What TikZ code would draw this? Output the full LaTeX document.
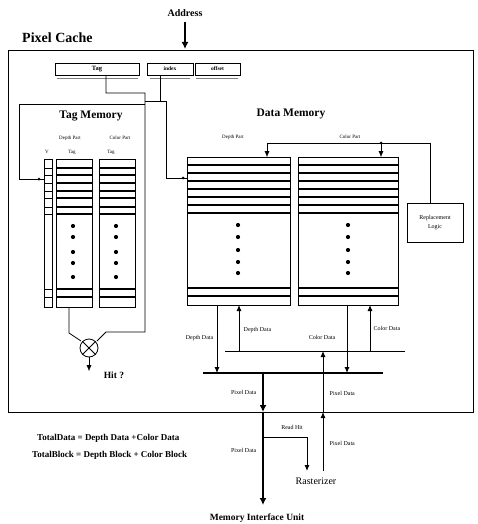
\documentclass[tikz,border=0pt]{standalone}
\usepackage{fontspec}
\setmainfont{Liberation Serif}
\usetikzlibrary{arrows.meta}
\begin{document}
\begin{tikzpicture}[x=1pt,y=-1pt,
  arr/.style={-{Latex[length=6pt,width=5pt]}},
  thickarr/.style={line width=1.6pt,-{Latex[length=7pt,width=7pt]}},
  ln/.style={line width=0.8pt},
  box/.style={draw,line width=0.8pt,inner sep=0pt,anchor=north west},
  fld/.style={draw,line width=0.8pt,inner sep=0pt,minimum height=12pt,font=\fontsize{5.5}{6}\selectfont\bfseries},
  lbl/.style={font=\fontsize{6}{7}\selectfont,inner sep=0.5pt},
  dotm/.style={circle,fill,inner sep=0pt,minimum size=4.2pt},
  jn/.style={circle,fill,inner sep=0pt,minimum size=3pt}]
\useasboundingbox (0,0) rectangle (478,524);

% titles
\node[font=\fontsize{10}{11}\selectfont\bfseries] (addr) at (185,13) {Address};
\node[anchor=west,font=\fontsize{14}{15}\selectfont\bfseries,inner sep=0pt] (pc) at (22,38) {Pixel Cache};

% outer box
\node[box,line width=1pt,minimum width=465pt,minimum height=362pt] (cache) at (8,50) {};
\coordinate (addrin) at (185,22);
\draw[thickarr] (addrin) -- (185,49);

% address fields
\node[fld,minimum width=84pt,font=\fontsize{6.5}{7}\selectfont\bfseries] (tagf) at (97,69) {Tag};
\node[fld,minimum width=46pt] (idxf) at (170,69) {index};
\node[fld,minimum width=45pt] (offf) at (217.5,69) {offset};
\draw[gray,line width=1pt] (57,79) -- (138,79) (150,79) -- (190,79) (196,79) -- (238,79);

% tag line and index line
\draw[ln] (106,75) -- (106,93) -- (145,93) -- (145,332) -- (106,332) -- (97,341);
\draw[ln] (160,75) -- (160,101) -- (166,101) -- (166,178) -- (187,178);
\draw[ln] (145,101) -- (160,101);
\draw[ln] (145,104) -- (19,104) -- (19,179) -- (44,179);
\node[jn] (j1) at (39,179) {};
\node[jn] (j2) at (183,178) {};

% Tag memory
\node[font=\fontsize{11.5}{12}\selectfont\bfseries] (tmt) at (91,116) {Tag Memory};
\node[lbl,font=\fontsize{5}{6}\selectfont] (tdp) at (70,138) {Depth Part};
\node[lbl,font=\fontsize{5}{6}\selectfont] (tcp) at (120,138) {Color Part};
\node[lbl,font=\fontsize{5}{6}\selectfont] (tv) at (47,152) {V};
\node[lbl,font=\fontsize{5}{6}\selectfont] (tt1) at (72,152) {Tag};
\node[lbl,font=\fontsize{5}{6}\selectfont] (tt2) at (111,152) {Tag};

\node[box,minimum width=8pt,minimum height=148pt] (vcol) at (44,159) {};
\node[box,minimum width=36pt,minimum height=148pt] (tc1) at (56,159) {};
\node[box,minimum width=36pt,minimum height=148pt] (tc2) at (99,159) {};
\foreach \y in {168,175,183,191,198,207,214,289,297}{
  \draw[line width=0.6pt] (44,\y) -- (52,\y);
  \draw[line width=1.1pt] (56,\y) -- (92,\y);
  \draw[line width=1.1pt] (99,\y) -- (135,\y);
}
\foreach \y in {226,237,252,263,277}{
  \node[dotm] at (73,\y) {};
  \node[dotm] at (116,\y) {};
}

% comparator
\node[draw,circle,line width=0.8pt,minimum size=18pt,inner sep=0pt] (cmp) at (89,348) {};
\draw[line width=0.8pt] (cmp.north west) -- (cmp.south east) (cmp.north east) -- (cmp.south west);
\draw[ln] (69,307) -- (69,333) -- (81,341);
\draw[arr] (cmp.south) -- (89,371);
\node[font=\fontsize{9.5}{10}\selectfont\bfseries] (hit) at (114,375) {Hit ?};

% Data memory
\node[font=\fontsize{11.5}{12}\selectfont\bfseries] (dmt) at (291,114) {Data Memory};
\node[lbl,font=\fontsize{5}{6}\selectfont] (ddp) at (233,137) {Depth Part};
\node[lbl,font=\fontsize{5}{6}\selectfont] (dcp) at (350,137) {Color Part};
\node[box,minimum width=103pt,minimum height=148pt] (dc1) at (187,157) {};
\node[box,minimum width=100pt,minimum height=148pt] (dc2) at (298,157) {};
\foreach \y in {165,173,181,189,197,205,213,288,296}{
  \draw[line width=1.2pt] (187,\y) -- (290,\y);
  \draw[line width=1.2pt] (298,\y) -- (398,\y);
}
\foreach \y in {225,237,250,262,273}{
  \node[dotm] at (238,\y) {};
  \node[dotm] at (348,\y) {};
}

% replacement logic
\node[draw,line width=0.8pt,minimum width=56pt,minimum height=39pt,align=center,font=\fontsize{6}{9}\selectfont] (rep) at (435,222.5) {Replacement\\Logic};
\draw[ln] (430,203) -- (430,143) -- (267,143);
\draw[arr] (267,143) -- (267,157);
\draw[arr] (381,143) -- (381,157);
\node[jn] (j3) at (381,143) {};

% buses
\draw[line width=1pt] (225,351) -- (405,351);
\draw[line width=2.2pt] (203,373) -- (383,373);
\draw[arr,line width=0.9pt] (217,305) -- (217,373);
\draw[arr,line width=0.9pt] (239,351) -- (239,305);
\draw[arr,line width=0.9pt] (347,305) -- (347,373);
\draw[arr,line width=0.9pt] (370,351) -- (370,305);
\draw[arr,line width=0.9pt] (323,412) -- (323,351);
\draw[thickarr] (263,373) -- (263,412);

\node[lbl,anchor=east] (l1) at (214,338) {Depth Data};
\node[lbl,anchor=west] (l2) at (243,330) {Depth Data};
\node[lbl] (l3) at (322,337) {Color Data};
\node[lbl,anchor=west] (l4) at (373,328) {Color Data};
\node[lbl,anchor=east] (l5) at (257,392) {Pixel Data};
\node[lbl,anchor=west] (l6) at (329,393) {Pixel Data};

% outside
\node[font=\fontsize{10}{11}\selectfont] (ras) at (316,481) {Rasterizer};
\node[font=\fontsize{9.5}{10}\selectfont\bfseries] (miu) at (257,518) {Memory Interface Unit};
\draw[thickarr] (263,412) -- (263,505);
\draw[ln] (263,437) -- (307,437);
\draw[arr,line width=0.9pt] (307,437) -- (307,471);
\draw[arr,line width=0.9pt] (323,471) -- (323,412);
\node[lbl,anchor=east] (l7) at (257,450) {Pixel Data};
\node[lbl] (l8) at (292,427) {Read Hit};
\node[lbl,anchor=west] (l9) at (329,443) {Pixel Data};

% formulas
\node[anchor=west,font=\fontsize{9}{10}\selectfont\bfseries,inner sep=0pt] (f1) at (37,438) {TotalData = Depth Data +Color Data};
\node[anchor=west,font=\fontsize{9}{10}\selectfont\bfseries,inner sep=0pt] (f2) at (32,455) {TotalBlock = Depth Block + Color Block};
\end{tikzpicture}
\end{document}
